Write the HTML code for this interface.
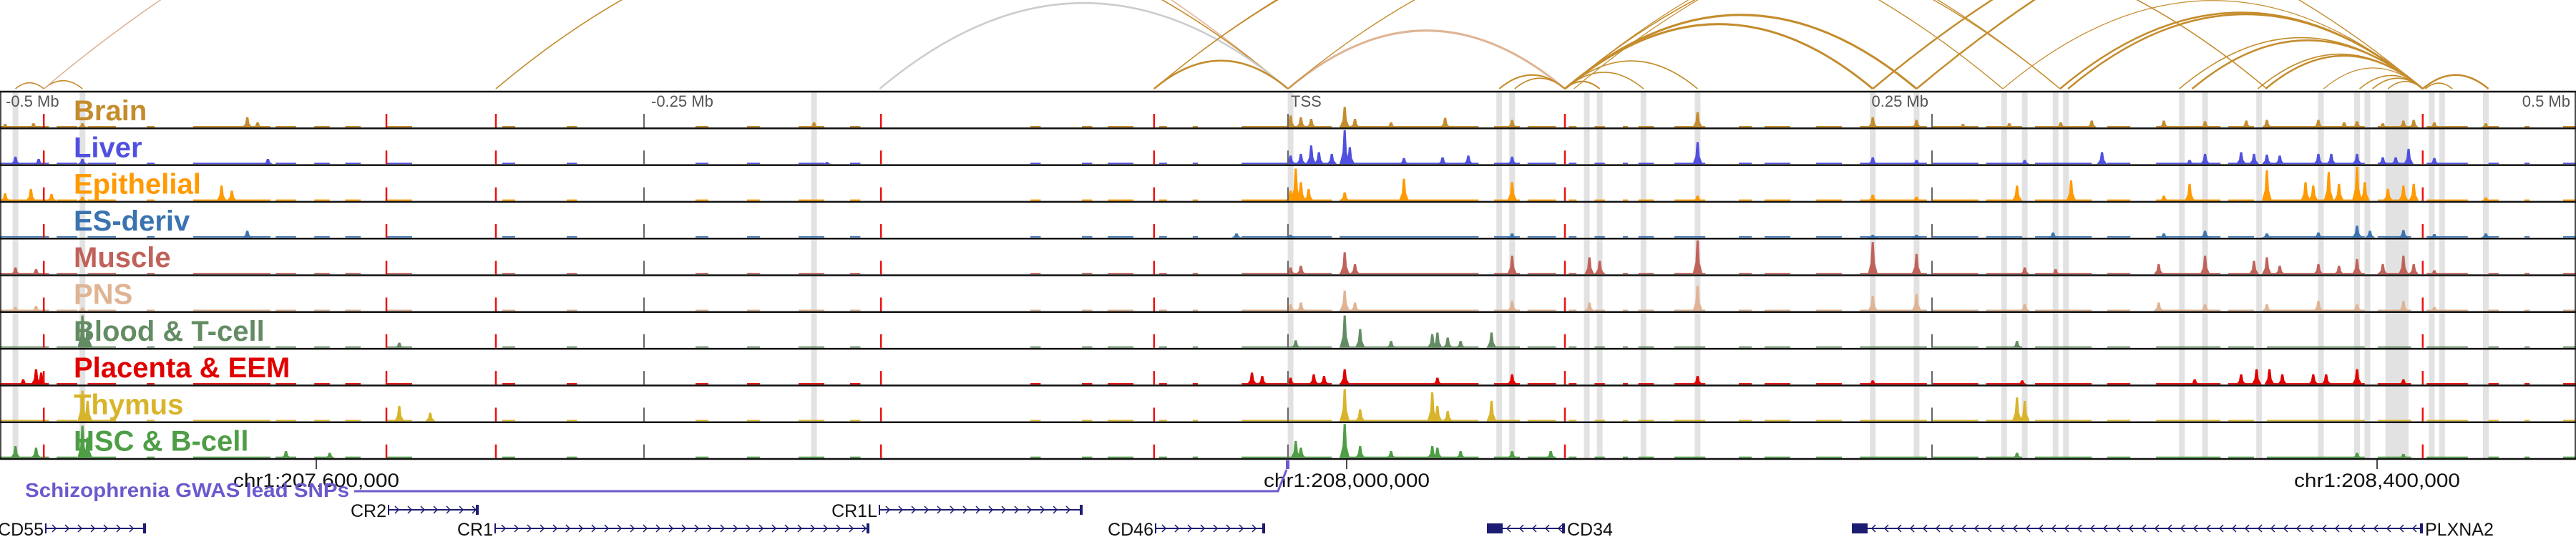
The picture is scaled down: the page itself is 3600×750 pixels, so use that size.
<!DOCTYPE html>
<html><head><meta charset="utf-8">
<style>
html,body{margin:0;padding:0;background:#fff;}
svg{display:block;font-family:"Liberation Sans",sans-serif;}
</style></head>
<body>
<svg id="chart" width="3600" height="750" viewBox="0 0 3600 750" xmlns="http://www.w3.org/2000/svg">
  <g id="arcs"></g>
  <g id="bands"></g>
  <g id="tracks"></g>
  <g id="vlines"></g>
  <g id="labels"></g>
  <g id="axis">
    <text x="8" y="149" font-size="22" fill="#555">-0.5 Mb</text>
    <text x="910" y="149" font-size="22" fill="#555">-0.25 Mb</text>
    <text x="1804" y="149" font-size="22" fill="#555">TSS</text>
    <text x="2695" y="149" font-size="22" fill="#555" text-anchor="end">0.25 Mb</text>
    <text x="3592" y="149" font-size="22" fill="#555" text-anchor="end">0.5 Mb</text>
  </g>
  <g id="genome"></g>
</svg>
<script>
// ---------- data ----------
const trackNames = ["Brain","Liver","Epithelial","ES-deriv","Muscle","PNS","Blood & T-cell","Placenta & EEM","Thymus","HSC & B-cell"];
const trackColors = ["#c48c2c","#5050e0","#ff9a00","#3a73b0","#c0625a","#dfb494","#648c64","#e00000","#d8b42a","#4e9e46"];
// peaks: position (kb from TSS), height (fraction of track)
const brainPos = [-498,-487,-468,-404,-400,-184,1,5,9,22,26,40,61,87,159,227,244,262,280,300,312,340,356,372,380,400,410,415,425,433,437,445,465];
const brainVal = [0.1,0.12,0.12,0.3,0.15,0.15,0.35,0.3,0.25,0.6,0.25,0.15,0.28,0.22,0.45,0.3,0.22,0.1,0.12,0.15,0.2,0.2,0.18,0.2,0.22,0.22,0.15,0.18,0.12,0.2,0.22,0.15,0.12];
const liverPos = [-494,-485,-468,-396,-179,1,5,9,12,17,22,24,45,60,70,87,159,227,244,286,316,350,356,370,375,380,385,400,405,415,425,430,435,445];
const liverVal = [0.22,0.15,0.15,0.15,0.06,0.25,0.3,0.55,0.35,0.3,1.0,0.5,0.18,0.2,0.25,0.22,0.65,0.2,0.12,0.12,0.35,0.12,0.3,0.35,0.3,0.28,0.25,0.3,0.3,0.3,0.2,0.2,0.45,0.18];
const epiPos = [-498,-488,-480,-468,-414,-410,1,3,5,8,22,45,87,159,227,244,283,304,340,350,380,395,398,404,408,415,418,427,433,437,465];
const epiVal = [0.22,0.35,0.2,0.12,0.45,0.3,0.3,0.95,0.55,0.35,0.25,0.65,0.55,0.15,0.18,0.12,0.45,0.6,0.15,0.5,0.9,0.55,0.45,0.85,0.5,1.0,0.55,0.35,0.45,0.5,0.1];
const esPos = [-404,1,-20,87,227,244,297,340,356,380,400,415,420,433,445,465];
const esVal = [0.2,0.08,0.12,0.12,0.08,0.08,0.15,0.12,0.2,0.12,0.15,0.35,0.2,0.22,0.1,0.12];
const musclePos = [-494,-486,1,5,22,26,87,117,121,159,227,244,286,298,338,356,375,380,385,400,408,415,425,433,437,445];
const muscleVal = [0.2,0.15,0.2,0.25,0.65,0.3,0.55,0.5,0.4,1.0,0.95,0.6,0.2,0.15,0.3,0.55,0.4,0.5,0.25,0.3,0.25,0.45,0.3,0.55,0.3,0.12];
const pnsPos = [-494,-486,-468,1,5,22,26,87,117,159,227,244,286,338,356,380,400,415,433,445];
const pnsVal = [0.12,0.15,0.1,0.2,0.25,0.6,0.25,0.3,0.25,0.75,0.45,0.5,0.2,0.25,0.2,0.2,0.3,0.2,0.3,0.12];
const bloodPos = [-468,-466,-345,3,22,28,40,56,58,62,67,79,283];
const bloodVal = [0.95,0.6,0.15,0.22,0.95,0.55,0.2,0.4,0.45,0.3,0.2,0.45,0.2];
const placPos = [-491,-486,-484,-14,-10,1,10,14,22,58,87,159,227,285,352,370,376,381,386,398,403,415,433];
const placVal = [0.15,0.45,0.35,0.35,0.25,0.2,0.3,0.25,0.45,0.2,0.3,0.25,0.12,0.12,0.15,0.3,0.45,0.45,0.3,0.3,0.3,0.45,0.15];
const thymPos = [-468,-466,-345,-333,22,28,56,58,62,79,283,286];
const thymVal = [0.9,0.6,0.45,0.25,0.95,0.35,0.85,0.45,0.3,0.6,0.7,0.6];
const hscPos = [-494,-486,-468,-466,-389,-372,3,5,22,28,40,56,58,67,87,102,283,415,433];
const hscVal = [0.35,0.3,0.95,0.6,0.2,0.15,0.5,0.3,1.0,0.35,0.2,0.35,0.3,0.2,0.2,0.2,0.15,0.15,0.12];
const trackPos = [brainPos,liverPos,epiPos,esPos,musclePos,pnsPos,bloodPos,placPos,thymPos,hscPos];
const trackVal = [brainVal,liverVal,epiVal,esVal,muscleVal,pnsVal,bloodVal,placVal,thymVal,hscVal];
// regions with low background signal (kb start, kb end)
const covStart = [-500,-478,-466,-443,-425,-393,-378,-366,-350,-305,-280,-230,-210,-190,-170,-100,-80,-70,-50,-37,-18,0,20,80,93,109,119,130,136,150,175,185,205,222,250,271,290,318,337,365,380,423,442,466,480,495];
const covEnd   = [-481,-470,-455,-440,-395,-385,-372,-360,-340,-300,-276,-225,-205,-180,-166,-96,-76,-60,-47,-35,0,17,74,90,104,112,123,132,142,162,180,195,215,248,268,285,312,327,362,375,418,436,458,470,482,500];
// highlighted regions (kb)
const bandPos = [-494,-468,-184,1,82,87,116,121,138,159,227,244,278,286,298,302,347,356,377,401,415,419,444,448,465];
const wideBandStart = [426];
const wideBandEnd = [435];
// dashed markers (kb)
const redLines = [-483,-350,-307.5,-158,-52,107.5,440.5];
const grayLines = [-250,0,250];
// arcs: start kb, end kb, stroke width, color
const arcStart = [-494,-483,-483,-307.5,-158.5,-52,0,82,88,107.5,107.5,107.5,107.5,107.5,107.5,-52,0,-52,277.5,299.7,302.8,227,244,107.5,111,346,351,376.5,379.5,402,416,421,427,440.5,441.5];
const arcEnd   = [-483,-468,0,0,0,0,107.5,107.5,107.5,121,138,159,227,244,380,277.5,299.7,299.7,440.5,440.5,440.5,639,694,440.5,440.5,440.5,440.5,440.5,440.5,440.5,440.5,440.5,440.5,466,452];
const arcW     = [1.6,1.6,1.6,1.6,2.5,2.5,3,2,1.6,2,1.6,1.6,3,3,1.6,1.4,1.4,1.4,1.2,2.5,2.5,2.5,2.5,1.2,1.2,1.6,2.5,1.6,2.5,1.2,1.6,1.6,1.6,2.5,1.6];
const arcC     = ["#c48c2c","#c48c2c","#dfb494","#c48c2c","#cccccc","#c48c2c","#dfb494","#c48c2c","#c48c2c","#c48c2c","#c48c2c","#c48c2c","#c48c2c","#c48c2c","#c48c2c","#c48c2c","#c48c2c","#c48c2c","#c48c2c","#c48c2c","#c48c2c","#c48c2c","#c48c2c","#c48c2c","#c48c2c","#c48c2c","#c48c2c","#c48c2c","#c48c2c","#c48c2c","#c48c2c","#c48c2c","#c48c2c","#c48c2c","#c48c2c"];

// ---------- scales ----------
const NS = "http://www.w3.org/2000/svg";
const X = kb => 1800 + kb * 3.6;
const TOP = 128, TH = 51.3, NT = 10;
function mk(tag, parent, attrs){ const e=document.createElementNS(NS,tag); for(const k in attrs) e.setAttribute(k,attrs[k]); parent.appendChild(e); return e; }

// arcs
const gA = document.getElementById('arcs');
const BASE = 124;
for(let i=0;i<arcStart.length;i++){
  const x1=X(arcStart[i]), x2=X(arcEnd[i]), span=x2-x1;
  const p = mk('path', gA, {d:`M${x1},${BASE} Q${(x1+x2)/2},${BASE-0.42*span} ${x2},${BASE}`, fill:'none', stroke:arcC[i], 'stroke-width':arcW[i]});
  
  
}

// bands
const gB = document.getElementById('bands');
for(let i=0;i<bandPos.length;i++){
  const r = mk('rect', gB, {x:X(bandPos[i])-4, y:TOP, width:8, height:TH*NT, fill:'#e2e2e2'});
  
  
}
for(let i=0;i<wideBandStart.length;i++){
  const r = mk('rect', gB, {x:X(wideBandStart[i]), y:TOP, width:X(wideBandEnd[i])-X(wideBandStart[i]), height:TH*NT, fill:'#e2e2e2'});
  
  
}

// tracks
const gT = document.getElementById('tracks');
const gL = document.getElementById('labels');
for(let t=0;t<NT;t++){
  const top = TOP + t*TH, base = top + TH - 1.5;
  const g = mk('g', gT, {});
  
  
  for(let i=0;i<covStart.length;i++){
    const r = mk('rect', g, {x:X(covStart[i]), y:base-1.8, width:X(covEnd[i])-X(covStart[i]), height:1.8, fill:trackColors[t]});
    
    
  }
  const P = trackPos[t], V = trackVal[t];
  for(let i=0;i<P.length;i++){
    const h = V[i]*(TH-4), x = X(P[i]);
    const r = mk('path', g, {d:`M${x-7},${base} L${x-3},${base-h*0.35} L${x-1.5},${base-h} L${x+1.5},${base-h} L${x+3},${base-h*0.35} L${x+7},${base} Z`, fill:trackColors[t]});
    
    
  }
  const ln = mk('line', g, {x1:0, x2:3600, y1:top+TH, y2:top+TH, stroke:'#111', 'stroke-width':2.5});
  
  
  const tx = mk('text', gL, {x:103, y:top+40, 'font-size':40, 'font-weight':'bold', fill:trackColors[t]});
  tx.textContent = trackNames[t];
  
  
}
const topLine = mk('line', gT, {x1:0,x2:3600,y1:TOP,y2:TOP,stroke:'#111','stroke-width':2.5});


const frame = mk('rect', gT, {x:1,y:TOP,width:3598,height:TH*NT,fill:'none',stroke:'#111','stroke-width':1.5});



// vertical dashed lines
const gV = document.getElementById('vlines');
for(const k of grayLines){
  const l = mk('line', gV, {x1:X(k),x2:X(k),y1:TOP,y2:TOP+TH*NT,stroke:'#666','stroke-width':2,'stroke-dasharray':'19 32.3','stroke-dashoffset':'-31'});
  
  
}
for(const k of redLines){
  const l = mk('line', gV, {x1:X(k),x2:X(k),y1:TOP,y2:TOP+TH*NT,stroke:'#ee1111','stroke-width':2.5,'stroke-dasharray':'19 32.3','stroke-dashoffset':'-31'});
  
  
}

// genome annotation
const gG = document.getElementById('genome');
const chrTicks = [207600000, 208000000, 208400000];
const chrX = p => 1882 + (p-208000000)/1000*3.6;
for(const p of chrTicks){
  const x = chrX(p);
  const tk = mk('line', gG, {x1:x,x2:x,y1:641,y2:655,stroke:'#111','stroke-width':1.5});
  
  
  const s = 'chr1:' + p.toLocaleString('en-US');
  const t = mk('text', gG, {x:x, y:680, 'font-size':27, 'text-anchor':'middle', fill:'#111', textLength:232, lengthAdjust:'spacingAndGlyphs'});
  t.textContent = s;
  
  
}
const sz = mk('text', gG, {x:35, y:694, 'font-size':28, 'font-weight':'bold', fill:'#6a5acd', textLength:453, lengthAdjust:'spacingAndGlyphs'});
sz.textContent = 'Schizophrenia GWAS lead SNPs';


const szl = mk('path', gG, {d:'M495,686 L1786,686 L1798,656', fill:'none', stroke:'#6a5acd','stroke-width':3});


const szm = mk('rect', gG, {x:1797,y:643,width:5,height:12,fill:'#6a5acd'});



const geneNames = ["CD55","CR2","CR1","CR1L","CD46","CD34","PLXNA2"];
const geneStart = [63,542,691,1228,1614,2078,2588];
const geneEnd   = [204,669,1215,1513,1768,2187,3386];
const geneRow   = [738,712,738,712,738,738,738];
const geneStrand= [1,1,1,1,1,-1,-1];
for(let i=0;i<geneNames.length;i++){
  const g = mk('g', gG, {});
  
  
  const y = geneRow[i], x1 = geneStart[i], x2 = geneEnd[i];
  mk('line', g, {x1:x1,x2:x2,y1:y,y2:y,stroke:'#1c1c72','stroke-width':2});
  mk('rect', g, {x:x1,y:y-7,width:2,height:14,fill:'#1c1c72'});
  mk('rect', g, {x:x2-4,y:y-7,width:4,height:14,fill:'#1c1c72'});
  if(geneStrand[i]<0) mk('rect', g, {x:x1,y:y-7,width:22,height:14,fill:'#1c1c72'});
  let d='';
  for(let x=x1+10; x<x2-8; x+=18){
    d += geneStrand[i]>0 ? `M${x},${y-5} L${x+5},${y} L${x},${y+5} ` : `M${x+5},${y-5} L${x},${y} L${x+5},${y+5} `;
  }
  mk('path', g, {d:d, fill:'none', stroke:'#1c1c72','stroke-width':1.5});
  const t = mk('text', g, {x: geneStrand[i]>0 ? x1-2 : x2+3, y:y+10, 'font-size':25, fill:'#111', 'text-anchor': geneStrand[i]>0 ? 'end':'start'});
  t.textContent = geneNames[i];
  
  
}
</script>
</body></html>
